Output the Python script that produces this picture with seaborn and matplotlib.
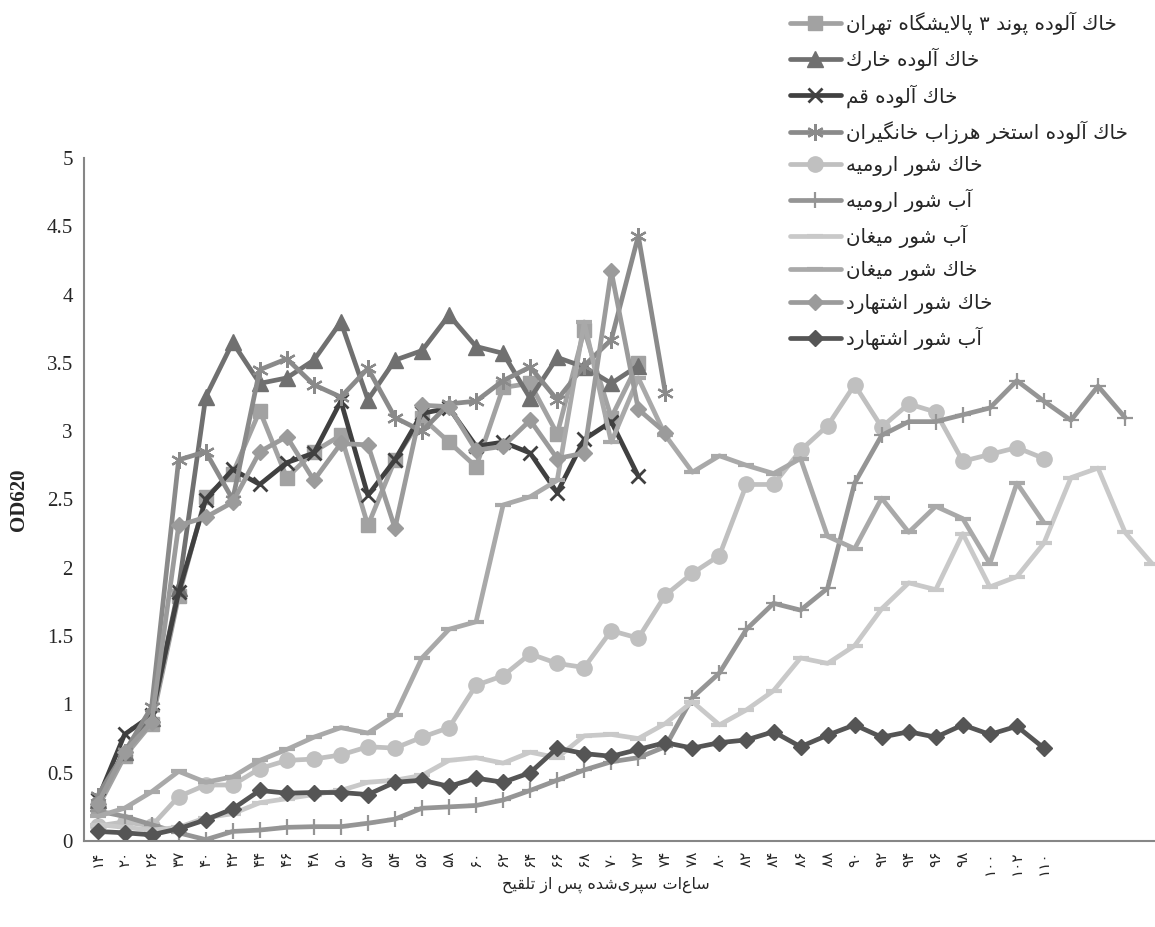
import numpy as np
import pandas as pd
import matplotlib
matplotlib.use("Agg")
import matplotlib.pyplot as plt
import seaborn as sns

# ---------------- data ----------------
x_labels = ['۱۴', '۲۰', '۲۶', '۳۷', '۴۰', '۴۲', '۴۴', '۴۶', '۴۸', '۵۰', '۵۲', '۵۴',
            '۵۶', '۵۸', '۶۰', '۶۲', '۶۴', '۶۶', '۶۸', '۷۰', '۷۲', '۷۴', '۷۸', '۸۰',
            '۸۲', '۸۴', '۸۶', '۸۸', '۹۰', '۹۲', '۹۴', '۹۶', '۹۸', '۱۰۰', '۱۰۲', '۱۱۰']
n_categories = 40

series_names = [
    "خاك آلوده پوند ۳ پالایشگاه تهران",
    "خاك آلوده خارك",
    "خاك آلوده قم",
    "خاك آلوده استخر هرزاب خانگیران",
    "خاك شور ارومیه",
    "آب شور ارومیه",
    "آب شور میغان",
    "خاك شور میغان",
    "خاك شور اشتهارد",
    "آب شور اشتهارد",
]

tehran = [0.24, 0.62, 0.86, 1.79, 2.52, 2.69, 3.15, 2.66, 2.85, 2.97, 2.31, 2.79,
          3.10, 2.92, 2.74, 3.32, 3.35, 2.98, 3.74, 3.10, 3.50]
khark = [0.30, 0.65, 0.90, 1.85, 3.25, 3.65, 3.35, 3.39, 3.52, 3.80, 3.23, 3.52,
         3.59, 3.85, 3.62, 3.57, 3.24, 3.54, 3.47, 3.35, 3.48]
qom = [0.30, 0.78, 0.92, 1.82, 2.50, 2.72, 2.61, 2.77, 2.84, 3.22, 2.53, 2.79,
       3.13, 3.17, 2.89, 2.92, 2.84, 2.55, 2.94, 3.07, 2.67]
khangiran = [0.33, 0.65, 0.98, 2.79, 2.85, 2.50, 3.45, 3.53, 3.34, 3.25, 3.46, 3.10,
             3.00, 3.20, 3.22, 3.37, 3.47, 3.23, 3.48, 3.67, 4.43, 3.28]
urmia_soil = [0.11, 0.14, 0.11, 0.325, 0.41, 0.41, 0.53, 0.59, 0.60, 0.63, 0.69, 0.68,
              0.76, 0.83, 1.14, 1.21, 1.37, 1.30, 1.27, 1.54, 1.485, 1.80, 1.96, 2.09,
              2.61, 2.61, 2.86, 3.04, 3.34, 3.03, 3.20, 3.14, 2.78, 2.83, 2.88, 2.80]
urmia_water = [0.22, 0.18, 0.12, 0.06, 0.01, 0.07, 0.08, 0.10, 0.105, 0.105, 0.13, 0.16,
               0.24, 0.25, 0.26, 0.30, 0.37, 0.445, 0.52, 0.58, 0.61, 0.69, 1.05, 1.23,
               1.55, 1.74, 1.69, 1.85, 2.62, 2.97, 3.07, 3.07, 3.12, 3.17, 3.37, 3.22,
               3.08, 3.33, 3.10]
meighan_water = [0.12, 0.10, 0.08, 0.10, 0.17, 0.20, 0.28, 0.31, 0.34, 0.37, 0.43, 0.445,
                 0.48, 0.59, 0.61, 0.57, 0.65, 0.61, 0.77, 0.78, 0.75, 0.86, 1.02, 0.85,
                 0.96, 1.10, 1.34, 1.30, 1.43, 1.70, 1.89, 1.84, 2.25, 1.86, 1.935, 2.18,
                 2.66, 2.73, 2.26, 2.03]
meighan_soil = [0.18, 0.24, 0.36, 0.51, 0.43, 0.47, 0.59, 0.67, 0.76, 0.83, 0.79, 0.92,
                1.34, 1.55, 1.605, 2.46, 2.52, 2.64, 3.80, 2.92, 3.39, 2.97, 2.70, 2.82,
                2.75, 2.69, 2.80, 2.23, 2.14, 2.51, 2.26, 2.45, 2.36, 2.03, 2.62, 2.33]
eshtehard_soil = [0.27, 0.65, 0.87, 2.31, 2.37, 2.48, 2.85, 2.96, 2.64, 2.91, 2.90, 2.29,
                  3.19, 3.18, 2.86, 2.89, 3.08, 2.80, 2.84, 4.17, 3.16, 2.99]
eshtehard_water = [0.07, 0.06, 0.045, 0.09, 0.155, 0.235, 0.37, 0.35, 0.355, 0.355, 0.34, 0.43,
                   0.445, 0.40, 0.46, 0.43, 0.50, 0.68, 0.64, 0.62, 0.67, 0.72, 0.68, 0.72,
                   0.74, 0.80, 0.69, 0.775, 0.85, 0.76, 0.80, 0.76, 0.85, 0.78, 0.84, 0.68]

all_series = [tehran, khark, qom, khangiran, urmia_soil, urmia_water,
              meighan_water, meighan_soil, eshtehard_soil, eshtehard_water]

y_ticks = [0, 0.5, 1, 1.5, 2, 2.5, 3, 3.5, 4, 4.5, 5]
y_tick_labels = ['0', '0.5', '1', '1.5', '2', '2.5', '3', '3.5', '4', '4.5', '5']
x_title = "ساعات سپری\u200cشده پس از تلقیح"
y_title = "OD620"

# ---------------- styles ----------------
colors = ['#a2a2a2', '#707070', '#404040', '#8a8a8a', '#c0c0c0',
          '#959595', '#c9c9c9', '#a9a9a9', '#9b9b9b', '#555555']
markers = ['s', '^', 'x', (6, 2, 0), 'o', '+', '_', '_', 'D', 'D']
msizes = [10, 11, 10, 12, 11, 12, 11, 11, 8.5, 8.5]
mews = [1, 1, 2.0, 1.6, 1, 1.6, 3, 3, 1, 1]

# ---------------- minimal Arabic shaping for display ----------------
FORMS = {
    '\u0622': ('\uFE81', '\uFE82', None, None),
    '\u0627': ('\uFE8D', '\uFE8E', None, None),
    '\u0628': ('\uFE8F', '\uFE90', '\uFE91', '\uFE92'),
    '\u067E': ('\uFB56', '\uFB57', '\uFB58', '\uFB59'),
    '\u062A': ('\uFE95', '\uFE96', '\uFE97', '\uFE98'),
    '\u062D': ('\uFEA1', '\uFEA2', '\uFEA3', '\uFEA4'),
    '\u062E': ('\uFEA5', '\uFEA6', '\uFEA7', '\uFEA8'),
    '\u062F': ('\uFEA9', '\uFEAA', None, None),
    '\u0631': ('\uFEAD', '\uFEAE', None, None),
    '\u0632': ('\uFEAF', '\uFEB0', None, None),
    '\u0633': ('\uFEB1', '\uFEB2', '\uFEB3', '\uFEB4'),
    '\u0634': ('\uFEB5', '\uFEB6', '\uFEB7', '\uFEB8'),
    '\u063A': ('\uFECD', '\uFECE', '\uFECF', '\uFED0'),
    '\u0642': ('\uFED5', '\uFED6', '\uFED7', '\uFED8'),
    '\u0643': ('\uFED9', '\uFEDA', '\uFEDB', '\uFEDC'),
    '\u06A9': ('\uFB8E', '\uFB8F', '\uFB90', '\uFB91'),
    '\u06AF': ('\uFB92', '\uFB93', '\uFB94', '\uFB95'),
    '\u0644': ('\uFEDD', '\uFEDE', '\uFEDF', '\uFEE0'),
    '\u0645': ('\uFEE1', '\uFEE2', '\uFEE3', '\uFEE4'),
    '\u0646': ('\uFEE5', '\uFEE6', '\uFEE7', '\uFEE8'),
    '\u0647': ('\uFEE9', '\uFEEA', '\uFEEB', '\uFEEC'),
    '\u0648': ('\uFEED', '\uFEEE', None, None),
    '\u06CC': ('\uFBFC', '\uFBFD', '\uFBFE', '\uFBFF'),
    '\u064A': ('\uFEF1', '\uFEF2', '\uFEF3', '\uFEF4'),
}
DIGITS = set('0123456789۰۱۲۳۴۵۶۷۸۹')


def shape_rtl(s):
    ch = list(s)
    n = len(ch)
    out = []
    i = 0
    while i < n:
        c = ch[i]
        if c not in FORMS:
            if c != '\u200c':
                out.append(c)
            i += 1
            continue
        prev_join = i > 0 and ch[i - 1] in FORMS and FORMS[ch[i - 1]][2] is not None
        if c == '\u0644' and i + 1 < n and ch[i + 1] in ('\u0627', '\u0622'):
            if ch[i + 1] == '\u0627':
                out.append('\uFEFC' if prev_join else '\uFEFB')
            else:
                out.append('\uFEF6' if prev_join else '\uFEF5')
            i += 2
            continue
        next_join = (i + 1 < n and ch[i + 1] in FORMS and FORMS[c][2] is not None)
        iso, fin, ini, med = FORMS[c]
        if prev_join and next_join:
            out.append(med)
        elif prev_join:
            out.append(fin)
        elif next_join:
            out.append(ini)
        else:
            out.append(iso)
        i += 1
    runs = []
    for g in out:
        isd = g in DIGITS
        if runs and runs[-1][0] == isd:
            runs[-1][1].append(g)
        else:
            runs.append([isd, [g]])
    res = ''
    for isd, gs in reversed(runs):
        res += ''.join(gs) if isd else ''.join(reversed(gs))
    return res


# ---------------- plot ----------------
sns.set_theme(style='white')
plt.rcParams['font.family'] = ['DejaVu Sans']

W, H = 1155, 927
fig = plt.figure(figsize=(W / 100, H / 100), dpi=100)
ax_left, ax_bottom = 84 / W, 86 / H
ax = fig.add_axes([ax_left, ax_bottom, 1 - ax_left, (841 - 158) / H])

for vals, name, col, mk, ms, mw in zip(all_series, series_names, colors, markers, msizes, mews):
    xs = np.arange(1, len(vals) + 1)
    sns.lineplot(x=xs, y=vals, ax=ax, color=col, marker=mk, markersize=ms,
                 markeredgecolor=col, markerfacecolor=col, markeredgewidth=mw,
                 linewidth=3.4, label=shape_rtl(name), sort=False)

handles, labels = ax.get_legend_handles_labels()
if ax.get_legend() is not None:
    ax.get_legend().remove()

ax.set_xlim(0.5, 0.5 + (W - 84) / 27.04)
ax.set_ylim(0, 5)

ax.set_yticks(y_ticks)
ax.set_yticklabels(y_tick_labels, fontfamily='Liberation Serif', fontsize=15)
ax.set_xticks(np.arange(0.5, n_categories, 1.0))
ax.set_xticklabels([])
ax.set_xticks(np.arange(1, len(x_labels) + 1), labels=x_labels, minor=True)
ax.tick_params(axis='x', which='minor', length=0, pad=7, labelsize=11, labelrotation=90)
ax.tick_params(axis='x', which='major', length=5, width=1.2, color='#868686', direction='out')
ax.tick_params(axis='y', which='major', length=5, width=1.2, color='#868686',
               direction='out', pad=3)

for sp in ['top', 'right']:
    ax.spines[sp].set_visible(False)
for sp in ['left', 'bottom']:
    ax.spines[sp].set_color('#868686')
    ax.spines[sp].set_linewidth(1.5)

ax.set_ylabel(y_title, fontfamily='Liberation Serif', fontweight='bold', fontsize=15)
ax.yaxis.set_label_coords(-(84 - 29) / 1071, 0.5)
ax.set_xlabel(shape_rtl(x_title), fontsize=11.5)
ax.xaxis.set_label_coords((606 - 84) / 1071, -(885 - 841) / 683)
ax.xaxis.label.set_va('center')

fig.legend(handles, labels, loc='upper left', bbox_to_anchor=(782 / W, 1 - 4 / H),
           frameon=False, fontsize=14.3, handlelength=2.55, handletextpad=0.25,
           labelspacing=0.64, borderaxespad=0)

fig.savefig('out.png', dpi=100)
